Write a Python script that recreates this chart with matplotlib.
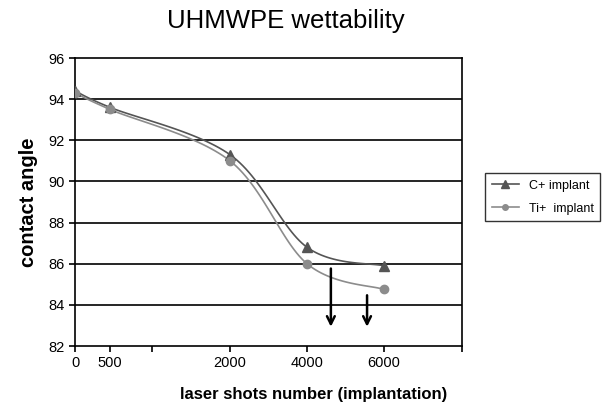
import numpy as np
import matplotlib
matplotlib.use("Agg")
from matplotlib import pyplot as plt

plt.rcParams['font.family'] = ['Liberation Sans', 'DejaVu Sans']

# datos
shots = [0, 500, 2000, 4000, 6000]
c_implant = [94.4, 93.6, 91.3, 86.8, 85.9]
ti_implant = [94.3, 93.5, 91.0, 86.0, 84.75]

# eje x tipo Excel (no lineal)
tick_vals = [0, 500, 1000, 2000, 4000, 6000, 8000]
tick_labels = ['0', '500', '', '2000', '4000', '6000', '']
tick_pos = [0, 35, 77, 155, 232, 309, 387]

# flechas (x, y inicio, y fin)
arrow_x = [4620, 5560]
arrow_y0 = [85.9, 84.6]
arrow_y1 = [82.8, 82.8]


def fwd(x):
    return np.interp(x, tick_vals, tick_pos)


def inv(u):
    return np.interp(u, tick_pos, tick_vals)


def suave(xs, ys, n=30):
    # curva tipo Excel (catmull-rom) en coordenadas del eje
    u = fwd(np.array(xs, float))
    y = np.array(ys, float)
    pu = np.concatenate([[u[0]], u, [u[-1]]])
    py = np.concatenate([[y[0]], y, [y[-1]]])
    ou, oy = [], []
    for i in range(1, len(pu) - 2):
        t = np.linspace(0, 1, n)
        for p, out in ((pu, ou), (py, oy)):
            p0, p1, p2, p3 = p[i - 1], p[i], p[i + 1], p[i + 2]
            b1 = p1 + (p2 - p0) / 6
            b2 = p2 - (p3 - p1) / 6
            out.extend((1 - t) ** 3 * p1 + 3 * (1 - t) ** 2 * t * b1
                       + 3 * (1 - t) * t ** 2 * b2 + t ** 3 * p2)
    return inv(np.array(ou)), np.array(oy)


fig = plt.figure(figsize=(6.11, 4.07), dpi=100)
ax = fig.add_axes([75 / 611, 1 - 346 / 407, 387 / 611, 288 / 407])
ax.set_xscale('function', functions=(fwd, inv))

for yv in range(84, 96, 2):
    ax.axhline(yv, color='black', lw=1.2, zorder=1)

xc, yc = suave(shots, c_implant)
xt, yt = suave(shots, ti_implant)
ax.plot(xc, yc, color='#555555', lw=1.2, zorder=3)
ax.plot(shots, c_implant, '^', color='#555555', ms=7, zorder=4)
ax.plot(xt, yt, color='#8c8c8c', lw=1.2, zorder=3)
ax.plot(shots, ti_implant, 'o', color='#8c8c8c', ms=6, zorder=4)

# leyenda
h1, = ax.plot([], [], '-^', color='#555555', ms=6, lw=1.2)
h2, = ax.plot([], [], '-o', color='#8c8c8c', ms=4, lw=1.2)
leg = fig.legend([h1, h2], ['C+ implant', 'Ti+  implant'],
                 loc='upper left', bbox_to_anchor=(479 / 611, 1 - 167 / 407),
                 frameon=True, fancybox=False, edgecolor='black',
                 fontsize=9, handlelength=2.2, borderpad=0.5, labelspacing=0.9)
leg.get_frame().set_linewidth(1.0)

for x, y0, y1 in zip(arrow_x, arrow_y0, arrow_y1):
    ax.annotate('', xy=(x, y1), xytext=(x, y0),
                arrowprops=dict(arrowstyle='->', color='black', lw=1.8,
                                mutation_scale=14), zorder=5)

ax.set_xlim(0, 8000)
ax.set_ylim(82, 96)
ax.set_xticks(tick_vals)
ax.set_xticklabels(tick_labels)
ax.set_yticks(range(82, 97, 2))
ax.tick_params(axis='both', labelsize=10.5, direction='out', length=4,
               width=1.2, colors='black')
for s in ax.spines.values():
    s.set_linewidth(1.2)
    s.set_color('black')

ax.set_ylabel('contact angle', fontsize=14.5, fontweight='bold', labelpad=7)
fig.text(314 / 611, 1 - 395 / 407, 'laser shots number (implantation)',
         ha='center', va='center', fontsize=12, fontweight='bold')
fig.text(286 / 611, 1 - 21 / 407, 'UHMWPE wettability',
         ha='center', va='center', fontsize=18.5)

fig.savefig('out.png', dpi=100)
